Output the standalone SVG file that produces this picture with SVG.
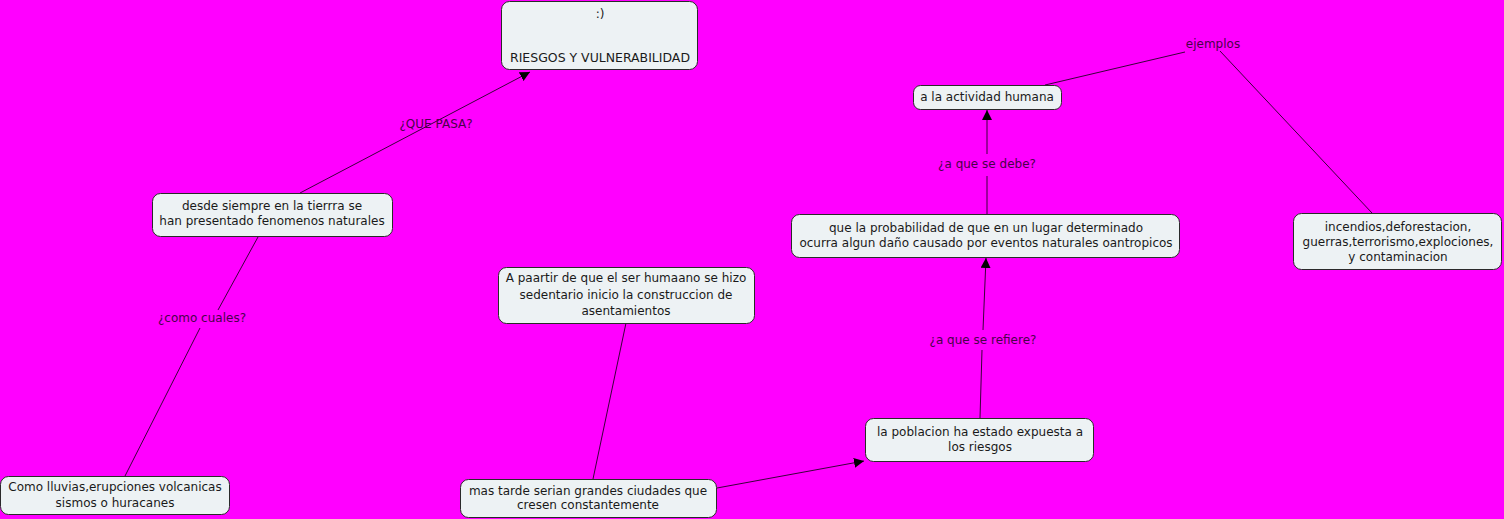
<svg xmlns="http://www.w3.org/2000/svg" width="1504" height="519" viewBox="0 0 1504 519">
<style>
.n rect{fill:#edf2f4;stroke:#2a2a2a;stroke-width:1}
.n text{font-family:"DejaVu Sans",Verdana,sans-serif;font-size:12px;fill:#1a1a1a;text-anchor:middle}
.lb{font-family:"DejaVu Sans",Verdana,sans-serif;font-size:12px;fill:#4a004a;text-anchor:middle}
.c line{stroke:#3a003a;stroke-width:1;fill:none}
</style>
<defs>
<marker id="ar" viewBox="0 0 10 10" refX="10" refY="5" markerWidth="10" markerHeight="10" markerUnits="userSpaceOnUse" orient="auto">
<path d="M0,0 L10,5 L0,10 Z" fill="#000"/>
</marker>
</defs>
<rect width="1504" height="519" fill="#ff00ff"/>
<g class="c" id="connectors">
<line x1="300" y1="193" x2="530" y2="72" marker-end="url(#ar)"/>
<line x1="258" y1="237" x2="218" y2="310"/>
<line x1="200" y1="328" x2="125" y2="476"/>
<line x1="626" y1="323" x2="593" y2="479"/>
<line x1="717" y1="488" x2="864" y2="461" marker-end="url(#ar)"/>
<line x1="980" y1="418" x2="982" y2="350"/>
<line x1="983" y1="330" x2="986" y2="258" marker-end="url(#ar)"/>
<line x1="987" y1="214" x2="987" y2="176"/>
<line x1="987" y1="154" x2="987" y2="110" marker-end="url(#ar)"/>
<line x1="1045" y1="85" x2="1185" y2="52"/>
<line x1="1220" y1="51" x2="1372" y2="213"/>
</g>
<g id="labels">
<text class="lb" x="436" y="128">¿QUE PASA?</text>
<text class="lb" x="202" y="322">¿como cuales?</text>
<text class="lb" x="987" y="168">¿a que se debe?</text>
<text class="lb" x="983" y="344">¿a que se refiere?</text>
<text class="lb" x="1213" y="48">ejemplos</text>
</g>
<g class="n" id="n1"><rect x="501.5" y="1.5" width="196" height="68" rx="8"/><text x="600" y="18">:)</text><text x="600" y="62" textLength="180" lengthAdjust="spacingAndGlyphs">RIESGOS Y VULNERABILIDAD</text></g>
<g class="n" id="n2"><rect x="152.5" y="193.5" width="240" height="43" rx="8"/><text x="272" y="210">desde siempre en la tierrra se</text><text x="272" y="225">han presentado fenomenos naturales</text></g>
<g class="n" id="n3"><rect x="0.5" y="476.5" width="229" height="38" rx="8"/><text x="115" y="491">Como lluvias,erupciones volcanicas</text><text x="115" y="507">sismos o huracanes</text></g>
<g class="n" id="n4"><rect x="498.5" y="267.5" width="256" height="56" rx="8"/><text x="626" y="282">A paartir de que el ser humaano se hizo</text><text x="626" y="299">sedentario inicio la construccion  de</text><text x="626" y="315">asentamientos</text></g>
<g class="n" id="n5"><rect x="460.5" y="479.5" width="256" height="38" rx="8"/><text x="588" y="495">mas tarde serian grandes ciudades que</text><text x="588" y="509">cresen constantemente</text></g>
<g class="n" id="n6"><rect x="865.5" y="418.5" width="228" height="43" rx="8"/><text x="980" y="436">la poblacion ha estado expuesta a</text><text x="980" y="451">los riesgos</text></g>
<g class="n" id="n7"><rect x="791.5" y="214.5" width="388" height="43" rx="8"/><text x="986" y="232">que la probabilidad de que en un lugar determinado</text><text x="986" y="247">ocurra algun daño causado por eventos naturales oantropicos</text></g>
<g class="n" id="n8"><rect x="913.5" y="85.5" width="148" height="24" rx="7"/><text x="987" y="101">a la actividad humana</text></g>
<g class="n" id="n9"><rect x="1293.5" y="213.5" width="208" height="56" rx="8"/><text x="1398" y="231">incendios,deforestacion,</text><text x="1398" y="246">guerras,terrorismo,explociones,</text><text x="1398" y="261">y contaminacion</text></g>
</svg>
